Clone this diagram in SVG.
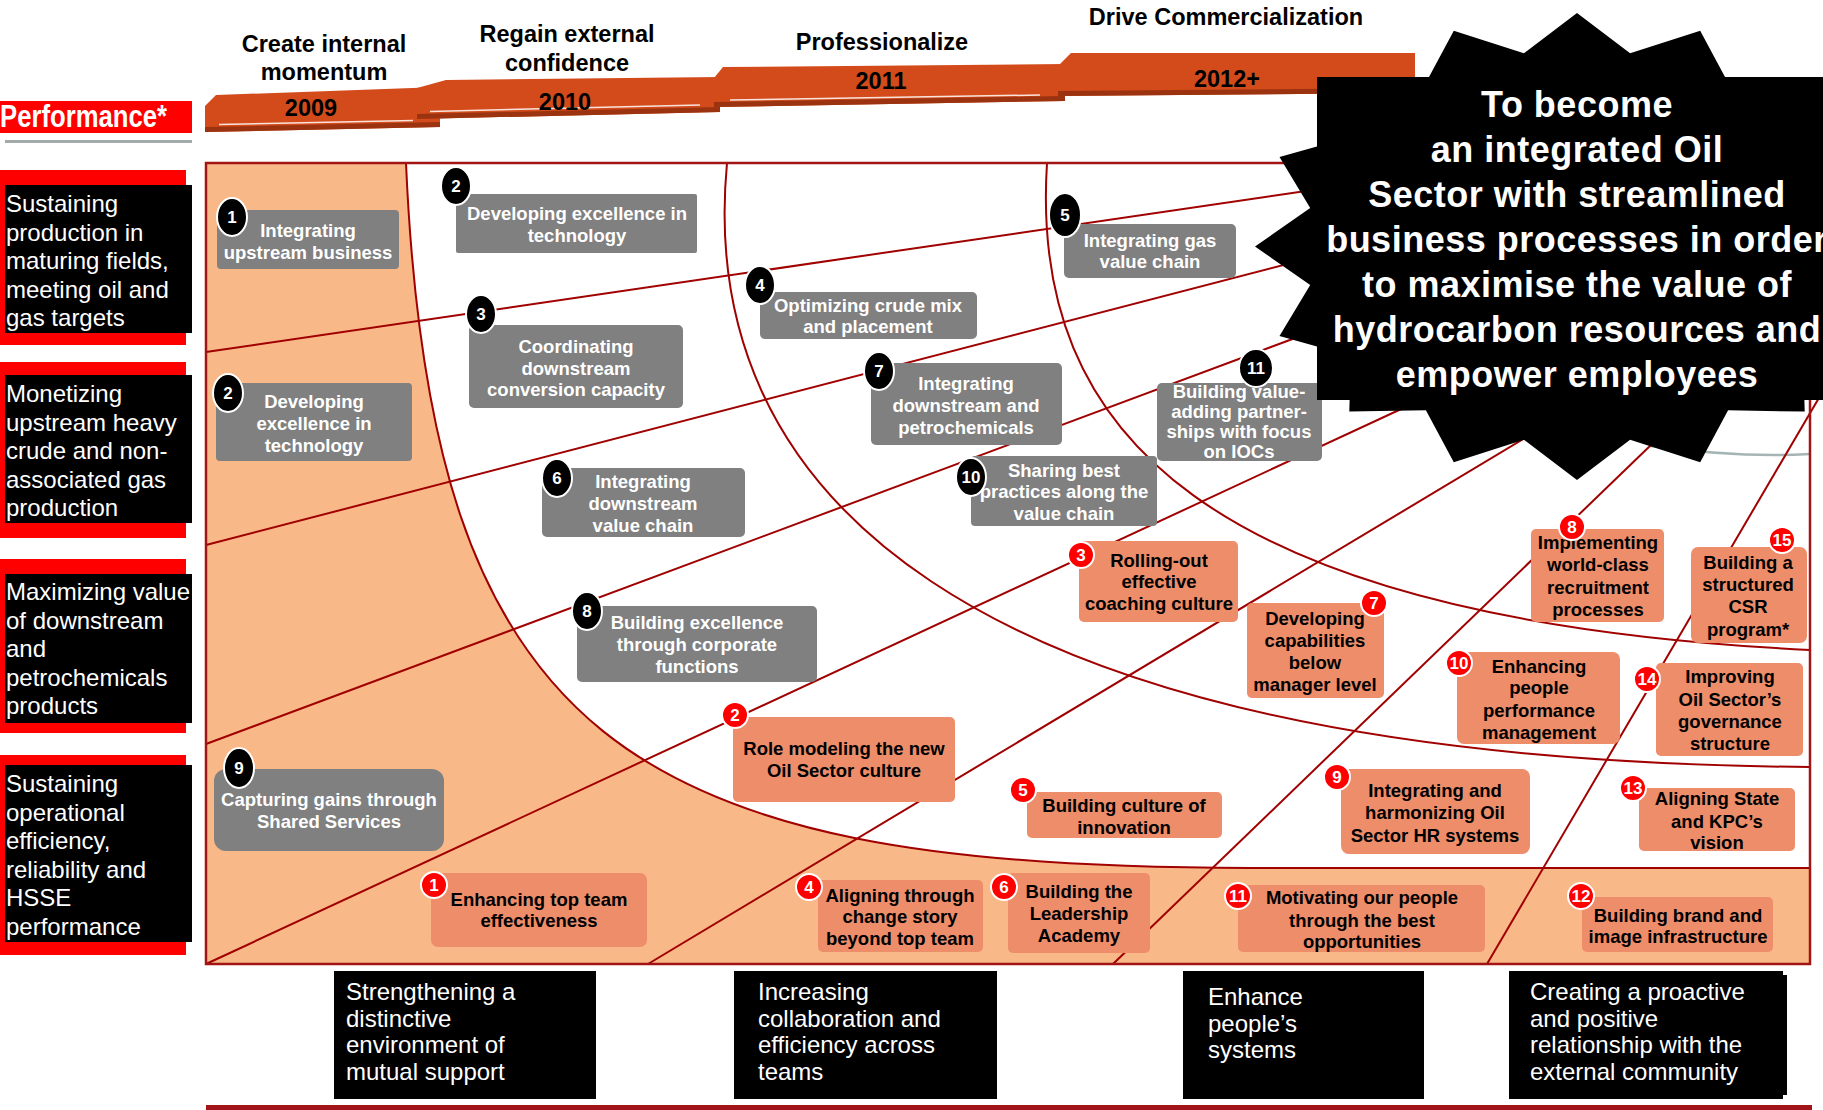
<svg xmlns="http://www.w3.org/2000/svg" width="1823" height="1110" viewBox="0 0 1823 1110">
<style>
text{font-family:"Liberation Sans",Arial,sans-serif}
.gb{fill:#808080}
.rb{fill:#EE8D6A}
.gt{fill:#fff;font-weight:bold;font-size:18.5px;text-anchor:middle}
.rt{fill:#000;font-weight:bold;font-size:18.5px;text-anchor:middle}
.kb{fill:#000;stroke:#fff;stroke-width:2}
.eb{fill:#FF0000;stroke:#fff;stroke-width:2}
.bn{fill:#fff;font-weight:bold;font-size:17px;text-anchor:middle}
.ln{stroke:#A00000;stroke-width:2;fill:none}
.lt{fill:#fff;font-size:24px}
.hd{fill:#000;font-weight:bold;font-size:23.5px;text-anchor:middle}
.ban{fill:#D34B1B}
.band{fill:#9B3310}
.vt{fill:#fff;font-weight:bold;font-size:36px;text-anchor:middle;letter-spacing:0.5px}
</style>
<rect width="1823" height="1110" fill="#fff"/>

<!-- headers and banners -->
<g id="phase-2009">
<polygon class="ban" points="205,106 216,95 440,87 440,127 205,132"/>
<polygon class="band" points="205,127 440,122 440,127 205,132"/>
<line x1="219" y1="124.5" x2="413" y2="120.5" stroke="#fff" stroke-width="1.5" opacity="0.85"/>
<text class="hd" x="324" y="52">Create internal</text>
<text class="hd" x="324" y="80">momentum</text>
<text class="hd" x="311" y="116">2009</text>
</g>
<g id="phase-2010">
<polygon class="ban" points="417,88 446,80 720,77 720,112 417,119"/>
<polygon class="band" points="417,114 720,107 720,112 417,119"/>
<line x1="430" y1="111.5" x2="700" y2="105" stroke="#fff" stroke-width="1.5" opacity="0.85"/>
<text class="hd" x="567" y="42">Regain external</text>
<text class="hd" x="567" y="71">confidence</text>
<text class="hd" x="565" y="110">2010</text>
</g>
<g id="phase-2011">
<polygon class="ban" points="714,78 723,67 1065,64 1065,101 714,107"/>
<polygon class="band" points="714,102 1065,96 1065,101 714,107"/>
<line x1="730" y1="100" x2="1040" y2="95" stroke="#fff" stroke-width="1.5" opacity="0.85"/>
<text class="hd" x="882" y="50">Professionalize</text>
<text class="hd" x="881" y="89">2011</text>
</g>
<g id="phase-2012">
<polygon class="ban" points="1058,66 1071,53 1415,53 1415,93 1058,96"/>
<polygon class="band" points="1058,91 1415,88 1415,93 1058,96"/>
<text class="hd" x="1226" y="25">Drive Commercialization</text>
<text class="hd" x="1227" y="87">2012+</text>
</g>

<!-- performance label -->
<g id="performance">
<rect x="0" y="101" width="192" height="32" fill="#FF0000"/>
<text x="0" y="127" fill="#fff" font-weight="bold" font-size="31" textLength="167" lengthAdjust="spacingAndGlyphs">Performance*</text>
<rect x="5" y="140" width="187" height="3" fill="#A3AAAA"/>
</g>

<!-- left row labels -->
<g id="row1">
<rect x="0" y="170" width="186" height="175" fill="#FF0000"/>
<rect x="5" y="185" width="187" height="148" fill="#000"/>
<text class="lt"><tspan x="6" y="212">Sustaining</tspan><tspan x="6" y="240.5">production in</tspan><tspan x="6" y="269">maturing fields,</tspan><tspan x="6" y="297.5">meeting oil and</tspan><tspan x="6" y="326">gas targets</tspan></text>
</g>
<g id="row2">
<rect x="0" y="362" width="186" height="176" fill="#FF0000"/>
<rect x="5" y="375" width="187" height="148" fill="#000"/>
<text class="lt"><tspan x="6" y="402">Monetizing</tspan><tspan x="6" y="430.5">upstream heavy</tspan><tspan x="6" y="459">crude and non-</tspan><tspan x="6" y="487.5">associated gas</tspan><tspan x="6" y="516">production</tspan></text>
</g>
<g id="row3">
<rect x="0" y="559" width="186" height="174" fill="#FF0000"/>
<rect x="5" y="574" width="187" height="149" fill="#000"/>
<text class="lt"><tspan x="6" y="600">Maximizing value</tspan><tspan x="6" y="628.5">of downstream</tspan><tspan x="6" y="657">and</tspan><tspan x="6" y="685.5">petrochemicals</tspan><tspan x="6" y="714">products</tspan></text>
</g>
<g id="row4">
<rect x="0" y="755" width="186" height="200" fill="#FF0000"/>
<rect x="5" y="765" width="187" height="177" fill="#000"/>
<text class="lt"><tspan x="6" y="792">Sustaining</tspan><tspan x="6" y="820.5">operational</tspan><tspan x="6" y="849">efficiency,</tspan><tspan x="6" y="877.5">reliability and</tspan><tspan x="6" y="906">HSSE</tspan><tspan x="6" y="934.5">performance</tspan></text>
</g>

<!-- chart background -->
<g id="chart">
<rect x="206" y="163" width="1604" height="801" fill="#fff"/>
<path d="M206,163 L406,163 C431,738 625,868 1250,868 L1810,868 L1810,964 L206,964 Z" fill="#F9B887"/>
<path class="ln" d="M406,163 C431,738 625,868 1250,868 L1810,868"/>
<path class="ln" d="M727,163 C697,480 940,760 1810,767"/>
<path class="ln" d="M1047,163 C1030,430 1200,620 1810,650"/>
<path d="M1650,446 Q1740,458 1810,454" fill="none" stroke="#A5B5B5" stroke-width="2.5"/>
</g>

<!-- connectors -->
<g id="connectors">
<line class="ln" x1="206" y1="352" x2="1330" y2="187.5"/>
<line class="ln" x1="206" y1="545" x2="1330" y2="253"/>
<line class="ln" x1="206" y1="744" x2="1330" y2="325"/>
<line class="ln" x1="206" y1="964" x2="1440" y2="391"/>
<line class="ln" x1="648" y1="964" x2="1540" y2="429"/>
<line class="ln" x1="1113" y1="964" x2="1680" y2="417"/>
<line class="ln" x1="1487" y1="964" x2="1830" y2="379"/>
</g>
<rect x="206" y="163" width="1604" height="801" fill="none" stroke="#A31515" stroke-width="2.5"/>

<!-- gray nodes -->
<g id="g1">
<rect class="gb" x="217" y="210" width="182" height="59" rx="4"/>
<text class="gt"><tspan x="308" y="237">Integrating</tspan><tspan x="308" y="259">upstream business</tspan></text>
<ellipse class="kb" cx="232" cy="217" rx="15" ry="19"/><text class="bn" x="232" y="223">1</text>
</g>
<g id="g2-left">
<rect class="gb" x="216" y="383" width="196" height="78" rx="4"/>
<text class="gt"><tspan x="314" y="408">Developing</tspan><tspan x="314" y="430">excellence in</tspan><tspan x="314" y="452">technology</tspan></text>
<ellipse class="kb" cx="228" cy="393" rx="15" ry="19"/><text class="bn" x="228" y="399">2</text>
</g>
<g id="g2">
<rect class="gb" x="456" y="194" width="241" height="59" rx="2"/>
<text class="gt"><tspan x="577" y="220">Developing excellence in</tspan><tspan x="577" y="242">technology</tspan></text>
<ellipse class="kb" cx="456" cy="186" rx="15" ry="19"/><text class="bn" x="456" y="192">2</text>
</g>
<g id="g3">
<rect class="gb" x="469" y="325" width="214" height="83" rx="5"/>
<text class="gt"><tspan x="576" y="353">Coordinating</tspan><tspan x="576" y="375">downstream</tspan><tspan x="576" y="396">conversion capacity</tspan></text>
<ellipse class="kb" cx="481" cy="314" rx="15" ry="19"/><text class="bn" x="481" y="320">3</text>
</g>
<g id="g4">
<rect class="gb" x="760" y="292" width="217" height="47" rx="5"/>
<text class="gt"><tspan x="868" y="312">Optimizing crude mix</tspan><tspan x="868" y="333">and placement</tspan></text>
<ellipse class="kb" cx="760" cy="285" rx="15" ry="19"/><text class="bn" x="760" y="291">4</text>
</g>
<g id="g5">
<rect class="gb" x="1064" y="224" width="172" height="54" rx="5"/>
<text class="gt"><tspan x="1150" y="247">Integrating gas</tspan><tspan x="1150" y="268">value chain</tspan></text>
<ellipse class="kb" cx="1065" cy="215" rx="16" ry="22"/><text class="bn" x="1065" y="221">5</text>
</g>
<g id="g6">
<rect class="gb" x="542" y="468" width="203" height="69" rx="5"/>
<text class="gt"><tspan x="643" y="488">Integrating</tspan><tspan x="643" y="510">downstream</tspan><tspan x="643" y="532">value chain</tspan></text>
<ellipse class="kb" cx="557" cy="478" rx="15" ry="19"/><text class="bn" x="557" y="484">6</text>
</g>
<g id="g7">
<rect class="gb" x="871" y="363" width="191" height="82" rx="5"/>
<text class="gt"><tspan x="966" y="390">Integrating</tspan><tspan x="966" y="412">downstream and</tspan><tspan x="966" y="434">petrochemicals</tspan></text>
<ellipse class="kb" cx="879" cy="371" rx="15" ry="19"/><text class="bn" x="879" y="377">7</text>
</g>
<g id="g8">
<rect class="gb" x="577" y="606" width="240" height="76" rx="5"/>
<text class="gt"><tspan x="697" y="629">Building excellence</tspan><tspan x="697" y="651">through corporate</tspan><tspan x="697" y="673">functions</tspan></text>
<ellipse class="kb" cx="587" cy="611" rx="15" ry="19"/><text class="bn" x="587" y="617">8</text>
</g>
<g id="g9">
<rect class="gb" x="214" y="769" width="230" height="82" rx="12"/>
<text class="gt"><tspan x="329" y="806">Capturing gains through</tspan><tspan x="329" y="828">Shared Services</tspan></text>
<ellipse class="kb" cx="239" cy="768" rx="15" ry="20"/><text class="bn" x="239" y="774">9</text>
</g>
<g id="g10">
<rect class="gb" x="971" y="456" width="186" height="70" rx="4"/>
<text class="gt"><tspan x="1064" y="477">Sharing best</tspan><tspan x="1064" y="498">practices along the</tspan><tspan x="1064" y="520">value chain</tspan></text>
<ellipse class="kb" cx="971" cy="477" rx="15" ry="19"/><text class="bn" x="971" y="483">10</text>
</g>
<g id="g11">
<rect class="gb" x="1157" y="383" width="165" height="78" rx="5"/>
<text class="gt"><tspan x="1239" y="398">Building value-</tspan><tspan x="1239" y="418">adding partner-</tspan><tspan x="1239" y="438">ships with focus</tspan><tspan x="1239" y="458">on IOCs</tspan></text>
<ellipse class="kb" cx="1256" cy="368" rx="17" ry="19"/><text class="bn" x="1256" y="374">11</text>
</g>

<!-- red nodes -->
<g id="r1">
<rect class="rb" x="431" y="873" width="216" height="74" rx="7"/>
<text class="rt"><tspan x="539" y="906">Enhancing top team</tspan><tspan x="539" y="927">effectiveness</tspan></text>
<circle class="eb" cx="434" cy="885" r="13"/><text class="bn" x="434" y="891">1</text>
</g>
<g id="r2">
<rect class="rb" x="733" y="717" width="222" height="85" rx="5"/>
<text class="rt"><tspan x="844" y="755">Role modeling the new</tspan><tspan x="844" y="777">Oil Sector culture</tspan></text>
<circle class="eb" cx="735" cy="715" r="13"/><text class="bn" x="735" y="721">2</text>
</g>
<g id="r3">
<rect class="rb" x="1079" y="541" width="159" height="81" rx="5"/>
<text class="rt"><tspan x="1159" y="567">Rolling-out</tspan><tspan x="1159" y="588">effective</tspan><tspan x="1159" y="610">coaching culture</tspan></text>
<circle class="eb" cx="1081" cy="555" r="13"/><text class="bn" x="1081" y="561">3</text>
</g>
<g id="r4">
<rect class="rb" x="818" y="880" width="165" height="72" rx="5"/>
<text class="rt"><tspan x="900" y="902">Aligning through</tspan><tspan x="900" y="923">change story</tspan><tspan x="900" y="945">beyond top team</tspan></text>
<circle class="eb" cx="809" cy="887" r="13"/><text class="bn" x="809" y="893">4</text>
</g>
<g id="r5">
<rect class="rb" x="1027" y="792" width="195" height="46" rx="5"/>
<text class="rt"><tspan x="1124" y="812">Building culture of</tspan><tspan x="1124" y="834">innovation</tspan></text>
<circle class="eb" cx="1023" cy="790" r="13"/><text class="bn" x="1023" y="796">5</text>
</g>
<g id="r6">
<rect class="rb" x="1008" y="873" width="142" height="80" rx="5"/>
<text class="rt"><tspan x="1079" y="898">Building the</tspan><tspan x="1079" y="920">Leadership</tspan><tspan x="1079" y="942">Academy</tspan></text>
<circle class="eb" cx="1004" cy="887" r="13"/><text class="bn" x="1004" y="893">6</text>
</g>
<g id="r7">
<rect class="rb" x="1247" y="603" width="137" height="95" rx="5"/>
<text class="rt"><tspan x="1315" y="625">Developing</tspan><tspan x="1315" y="647">capabilities</tspan><tspan x="1315" y="669">below</tspan><tspan x="1315" y="691">manager level</tspan></text>
<circle class="eb" cx="1374" cy="603" r="13"/><text class="bn" x="1374" y="609">7</text>
</g>
<g id="r8">
<rect class="rb" x="1531" y="529" width="133" height="93" rx="5"/>
<text class="rt"><tspan x="1598" y="549">Implementing</tspan><tspan x="1598" y="571">world-class</tspan><tspan x="1598" y="594">recruitment</tspan><tspan x="1598" y="616">processes</tspan></text>
<circle class="eb" cx="1572" cy="527" r="13"/><text class="bn" x="1572" y="533">8</text>
</g>
<g id="r9">
<rect class="rb" x="1341" y="769" width="189" height="85" rx="8"/>
<text class="rt"><tspan x="1435" y="797">Integrating and</tspan><tspan x="1435" y="819">harmonizing Oil</tspan><tspan x="1435" y="842">Sector HR systems</tspan></text>
<circle class="eb" cx="1337" cy="777" r="13"/><text class="bn" x="1337" y="783">9</text>
</g>
<g id="r10">
<rect class="rb" x="1457" y="652" width="163" height="92" rx="7"/>
<text class="rt"><tspan x="1539" y="673">Enhancing</tspan><tspan x="1539" y="694">people</tspan><tspan x="1539" y="717">performance</tspan><tspan x="1539" y="739">management</tspan></text>
<circle class="eb" cx="1459" cy="663" r="13"/><text class="bn" x="1459" y="669">10</text>
</g>
<g id="r11">
<rect class="rb" x="1238" y="885" width="247" height="67" rx="5"/>
<text class="rt"><tspan x="1362" y="904">Motivating our people</tspan><tspan x="1362" y="927">through the best</tspan><tspan x="1362" y="948">opportunities</tspan></text>
<circle class="eb" cx="1238" cy="896" r="13"/><text class="bn" x="1238" y="902">11</text>
</g>
<g id="r12">
<rect class="rb" x="1582" y="897" width="191" height="55" rx="5"/>
<text class="rt"><tspan x="1678" y="922">Building brand and</tspan><tspan x="1678" y="943">image infrastructure</tspan></text>
<circle class="eb" cx="1581" cy="896" r="13"/><text class="bn" x="1581" y="902">12</text>
</g>
<g id="r13">
<rect class="rb" x="1639" y="788" width="156" height="63" rx="5"/>
<text class="rt"><tspan x="1717" y="805">Aligning State</tspan><tspan x="1717" y="828">and KPC’s</tspan><tspan x="1717" y="849">vision</tspan></text>
<circle class="eb" cx="1633" cy="788" r="13"/><text class="bn" x="1633" y="794">13</text>
</g>
<g id="r14">
<rect class="rb" x="1656" y="663" width="147" height="93" rx="5"/>
<text class="rt"><tspan x="1730" y="683">Improving</tspan><tspan x="1730" y="706">Oil Sector’s</tspan><tspan x="1730" y="728">governance</tspan><tspan x="1730" y="750">structure</tspan></text>
<circle class="eb" cx="1647" cy="679" r="13"/><text class="bn" x="1647" y="685">14</text>
</g>
<g id="r15">
<rect class="rb" x="1691" y="547" width="116" height="96" rx="7"/>
<text class="rt"><tspan x="1748" y="569">Building a</tspan><tspan x="1748" y="591">structured</tspan><tspan x="1748" y="613">CSR</tspan><tspan x="1748" y="636">program*</tspan></text>
<circle class="eb" cx="1782" cy="540" r="13"/><text class="bn" x="1782" y="546">15</text>
</g>

<!-- vision star -->
<g id="vision">
<polygon fill="#000" points="1577,13 1630.1,53.3 1700.2,30.8 1728.1,82.7 1804.7,81.4 1803.2,137 1874.5,157.1 1843.8,208.1 1899,246.5 1843.8,284.9 1874.5,335.9 1803.2,356 1804.7,411.6 1728.1,410.3 1700.2,462.2 1630.1,439.7 1577,480 1523.9,439.7 1453.8,462.2 1425.9,410.3 1349.3,411.6 1350.8,356 1279.5,335.9 1310.2,284.9 1255,246.5 1310.2,208.1 1279.5,157.1 1350.8,137 1349.3,81.4 1425.9,82.7 1453.8,30.8 1523.9,53.3"/>
<rect x="1317" y="77" width="506" height="323" fill="#000"/>
<text class="vt"><tspan x="1577" y="117">To become</tspan><tspan x="1577" y="162">an integrated Oil</tspan><tspan x="1577" y="207">Sector with streamlined</tspan><tspan x="1577" y="252">business processes in order</tspan><tspan x="1577" y="297">to maximise the value of</tspan><tspan x="1577" y="342">hydrocarbon resources and</tspan><tspan x="1577" y="387">empower employees</tspan></text>
</g>

<!-- bottom themes -->
<g id="theme1">
<rect x="334" y="971" width="262" height="128" fill="#000"/>
<text class="lt"><tspan x="346" y="1000">Strengthening a</tspan><tspan x="346" y="1027">distinctive</tspan><tspan x="346" y="1053">environment of</tspan><tspan x="346" y="1080">mutual support</tspan></text>
</g>
<g id="theme2">
<rect x="734" y="971" width="263" height="128" fill="#000"/>
<text class="lt"><tspan x="758" y="1000">Increasing</tspan><tspan x="758" y="1027">collaboration and</tspan><tspan x="758" y="1053">efficiency across</tspan><tspan x="758" y="1080">teams</tspan></text>
</g>
<g id="theme3">
<rect x="1183" y="971" width="241" height="128" fill="#000"/>
<text class="lt"><tspan x="1208" y="1005">Enhance</tspan><tspan x="1208" y="1032">people’s</tspan><tspan x="1208" y="1058">systems</tspan></text>
</g>
<g id="theme4">
<rect x="1513" y="975" width="274" height="120" fill="#000"/>
<rect x="1509" y="971" width="274" height="128" fill="#000"/>
<text class="lt"><tspan x="1530" y="1000">Creating a proactive</tspan><tspan x="1530" y="1027">and positive</tspan><tspan x="1530" y="1053">relationship with the</tspan><tspan x="1530" y="1080">external community</tspan></text>
</g>
<rect x="206" y="1105" width="1606" height="5" fill="#A0141A"/>
</svg>
